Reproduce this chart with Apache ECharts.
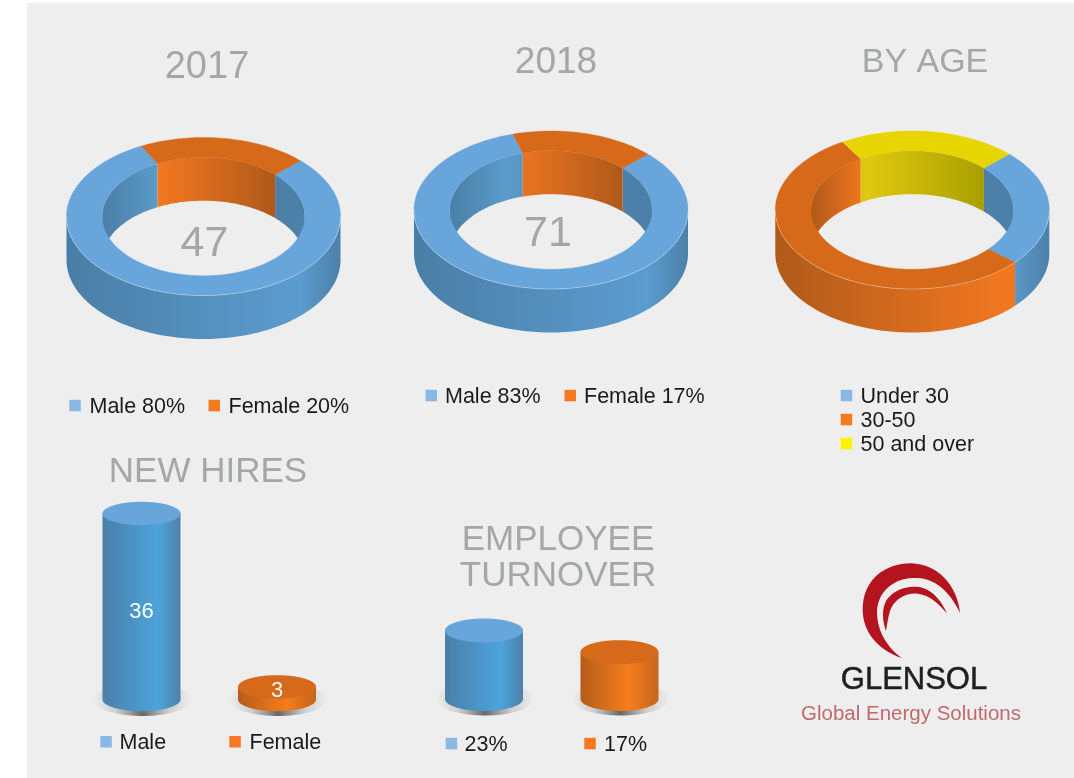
<!DOCTYPE html>
<html><head><meta charset="utf-8">
<style>html,body{margin:0;padding:0;background:#fff}#c{width:1074px;height:778px}</style>
<script src="https://cdn.jsdelivr.net/npm/echarts@6/dist/echarts.min.js"></script>
</head><body><div id="c"></div>
<script>
// ---------- data ----------
var shares2017 = [80, 20];
var shares2018 = [83, 17];
var sharesAge = [24, 55, 21];
var labels2017 = ['Male 80%', 'Female 20%'];
var labels2018 = ['Male 83%', 'Female 17%'];
var labelsAge = ['Under 30', '30-50', '50 and over'];
var totals = ['47', '71'];
var hiresCategories = ['Male', 'Female'];
var hiresValues = [36, 3];
var turnoverCategories = ['23%', '17%'];
var turnoverValues = [23, 17];

// ---------- palette ----------
var FONT = '"Liberation Sans", Arial, sans-serif';
var GREY = '#a3a7a6';
var PAL = {
  blue: {top:'#68a5da', legend:'#8ab8e4',
    outer:[[0,'#4a7ea6'],[.85,'#5c9ccf'],[1,'#4c80a8']],
    inner:[[0,'#4a7ea6'],[.27,'#5a9bc9'],[.85,'#4c80a8'],[1,'#4c80a8']],
    body:[[0,'#4a7fa8'],[.72,'#4ca4dc'],[1,'#4e81aa']]},
  orange: {top:'#d6691a', legend:'#f47920',
    outer:[[0,'#b05a1a'],[.88,'#f47920'],[1,'#b05a1a']],
    inner:[[0,'#b0591a'],[.27,'#f47920'],[.85,'#b0591a'],[1,'#b0591a']],
    body:[[0,'#b55d1b'],[.62,'#f57d1c'],[1,'#c5651c']]},
  yellow: {top:'#e6d500', legend:'#fff200',
    outer:[[0,'#a9a000'],[1,'#e6d500']],
    inner:[[0,'#a9a000'],[.27,'#e0c910'],[.85,'#a9a000'],[1,'#a9a000']]}
};
function stops(a){return a.map(function(s){return {offset:s[0],color:s[1]};});}

// ---------- 3D donut drawn by a custom series ----------
var RX=137, RY=79, IRX=101.3, IRY=59.3, DEPTH=43.5, START=45;
function pt(cx,cy,rx,ry,deg,dy){
  var r=deg*Math.PI/180;
  return [cx+rx*Math.sin(r), cy-ry*Math.cos(r)+(dy||0)];
}
function arc(cx,cy,rx,ry,a,b,dy){
  var n=Math.max(2,Math.ceil(Math.abs(b-a)/1.5)),out=[];
  for(var i=0;i<=n;i++) out.push(pt(cx,cy,rx,ry,a+(b-a)*i/n,dy));
  return out;
}
function overlap(a,b,lo,hi){var s=Math.max(a,lo),e=Math.min(b,hi);return e>s?[s,e]:null;}
function donut(name,shares,colors,cx,cy){
  return {
    type:'custom',name:name,coordinateSystem:'none',silent:true,animation:false,
    data:shares,
    renderItem:function(params,api){
      var i=params.dataIndex,before=0;
      for(var k=0;k<i;k++) before+=shares[k];
      var a=START+before*3.6, b=a+api.value(0)*3.6, p=PAL[colors[i]], kids=[];
      // outer wall: the front half of the ring
      [[90,270],[450,630]].forEach(function(w){
        var o=overlap(a,b,w[0],w[1]); if(!o) return;
        var top=arc(cx,cy,RX,RY,o[0],o[1]);
        kids.push({type:'polygon',z2:1,
          shape:{points:top.concat(arc(cx,cy,RX,RY,o[1],o[0],DEPTH))},
          style:{fill:new echarts.graphic.LinearGradient(cx-RX,0,cx+RX,0,stops(p.outer),true)}});
        kids.push({type:'polyline',z2:4,shape:{points:top},style:{fill:null,stroke:'rgba(255,255,255,.45)',lineWidth:.7}});
      });
      // inner wall: the back half of the hole
      [[-90,90],[270,450],[630,810]].forEach(function(w){
        var o=overlap(a,b,w[0],w[1]); if(!o) return;
        kids.push({type:'polygon',z2:2,
          shape:{points:arc(cx,cy,IRX,IRY,o[0],o[1]).concat(arc(cx,cy,IRX,IRY,o[1],o[0],DEPTH))},
          style:{fill:new echarts.graphic.LinearGradient(cx-IRX,0,cx+IRX,0,stops(p.inner),true)}});
      });
      // top face
      kids.push({type:'polygon',z2:3,
        shape:{points:arc(cx,cy,RX,RY,a,b).concat(arc(cx,cy,IRX,IRY,b,a))},
        style:{fill:p.top,stroke:p.top,lineWidth:.4}});
      return {type:'group',children:kids};
    }
  };
}

// ---------- cylinders through cartesian axes ----------
function cylinder(name,values,colors,gridIndex,ry,showLabel){
  return {
    type:'custom',name:name,coordinateSystem:'cartesian2d',
    xAxisIndex:gridIndex,yAxisIndex:gridIndex,silent:true,animation:false,
    data:values.map(function(v,i){return [i,v];}),
    encode:{x:0,y:1},
    renderItem:function(params,api){
      var i=params.dataIndex,v=api.value(1),p=PAL[colors[i]];
      var tp=api.coord([i,v]);
      var cx=tp[0], rx=39, topY=tp[1], baseY=params.coordSys.y+params.coordSys.height;
      var kids=[
        {type:'polygon',z2:0,shape:{points:arc(cx+1,baseY,rx+10,16.5,0,360)},
          style:{fill:new echarts.graphic.LinearGradient(0,0,1,0,[
            {offset:0,color:'rgba(90,90,90,0)'},{offset:.22,color:'rgba(90,90,90,.2)'},
            {offset:.5,color:'rgba(70,70,70,.8)'},{offset:.78,color:'rgba(90,90,90,.2)'},
            {offset:1,color:'rgba(90,90,90,0)'}])}},
        {type:'polygon',z2:1,shape:{points:[[cx-rx,topY]].concat(arc(cx,baseY,rx,ry,270,90),[[cx+rx,topY]])},
          style:{fill:new echarts.graphic.LinearGradient(0,0,1,0,stops(p.body))}},
        {type:'polygon',z2:2,shape:{points:arc(cx,topY,rx,ry,0,360)},style:{fill:p.top}}
      ];
      if(showLabel){
        kids.push({type:'text',z2:3,x:cx,y:(topY+baseY)/2+(v>10?5.5:-2.5),
          style:{text:String(v),fill:'#fff',font:'22px '+FONT,textAlign:'center',textVerticalAlign:'middle'}});
      }
      return {type:'group',children:kids};
    }
  };
}

// ---------- text ----------
function heading(text,x,y,size){
  return {text:text,left:x,top:y-size/2,padding:0,textAlign:'center',textVerticalAlign:'top',
    textStyle:{fontFamily:FONT,fontSize:size,fontWeight:'normal',color:GREY}};
}
var gfx=[{type:'rect',z:-10,shape:{x:27,y:3,width:1047,height:775},style:{fill:'#eeeeee'}}];
function legendItem(text,color,sqX,y,textX){
  gfx.push({type:'rect',shape:{x:sqX,y:y-5.7,width:11.5,height:11.5},style:{fill:color}});
  gfx.push({type:'text',x:textX,y:y+1.5,style:{text:text,fill:'#1a1a1a',font:'21.5px '+FONT,textAlign:'left',textVerticalAlign:'middle'}});
}
legendItem(labels2017[0],PAL.blue.legend,69.3,405.5,89.5);
legendItem(labels2017[1],PAL.orange.legend,208.5,405.5,228.5);
legendItem(labels2018[0],PAL.blue.legend,425.5,395.5,445);
legendItem(labels2018[1],PAL.orange.legend,564.5,395.5,584);
legendItem(labelsAge[0],PAL.blue.legend,840.7,395.5,860.5);
legendItem(labelsAge[1],PAL.orange.legend,840.7,419.5,860.5);
legendItem(labelsAge[2],PAL.yellow.legend,840.7,443.5,860.5);
legendItem(hiresCategories[0],PAL.blue.legend,100.3,741.7,119.5);
legendItem(hiresCategories[1],PAL.orange.legend,229.3,741.7,249.5);
legendItem(turnoverCategories[0],PAL.blue.legend,445.7,743.5,464.5);
legendItem(turnoverCategories[1],PAL.orange.legend,584.3,743.5,604);

// logo: two crescents as sampled bezier outlines
function bezierOutline(start,curves){
  var pts=[start],p0=start;
  curves.forEach(function(c){
    for(var s=1;s<=16;s++){
      var t=s/16,u=1-t;
      pts.push([u*u*u*p0[0]+3*u*u*t*c[0]+3*u*t*t*c[2]+t*t*t*c[4],
                u*u*u*p0[1]+3*u*u*t*c[1]+3*u*t*t*c[3]+t*t*t*c[5]]);
    }
    p0=[c[4],c[5]];
  });
  return pts;
}
gfx.push({type:'polygon',shape:{points:bezierOutline([901.7,658],[
  [878,650,862,632,862.7,608],[863,580,885,563,911,563.3],[938,564,957,585,960,613],
  [950,592,935,577,913,578],[890,579,877,595,877,612],[877,632,888,648,901.7,658]])},style:{fill:'#b3141d'}});
gfx.push({type:'polygon',shape:{points:bezierOutline([886,631],[
  [882,620,882,609,886,601],[892,591,905,586,917,586.7],[931,588,941,600,947,613.5],
  [938,603,928,593.5,914,593.5],[902,594,893,602,890,611],[888,618,887,625,886,631]])},style:{fill:'#b3141d'}});
gfx.push({type:'text',x:914,y:680,style:{text:'GLENSOL',fill:'#1f1f1f',stroke:'#1f1f1f',lineWidth:.5,font:'31px '+FONT,textAlign:'center',textVerticalAlign:'middle'}});
gfx.push({type:'text',x:911,y:714,style:{text:'Global Energy Solutions',fill:'#c06a6e',font:'20.5px '+FONT,textAlign:'center',textVerticalAlign:'middle'}});

var option={
  backgroundColor:'#ffffff',
  animation:false,
  title:[
    heading('2017',207,67.5,38),
    heading('2018',556,62.5,37),
    heading('BY AGE',925,63,34),
    heading('NEW HIRES',208,472,35),
    heading('EMPLOYEE',558,540,35),
    heading('TURNOVER',558,576,35),
    heading(totals[0],204.5,244.5,43),
    heading(totals[1],548,234.5,43)
  ],
  grid:[
    {left:73.75,width:271,top:513.5,height:186},
    {left:416.25,width:271,top:630.5,height:68.5}
  ],
  xAxis:[
    {gridIndex:0,type:'category',data:hiresCategories,show:false},
    {gridIndex:1,type:'category',data:turnoverCategories,show:false}
  ],
  yAxis:[
    {gridIndex:0,type:'value',min:0.6,max:36,show:false},
    {gridIndex:1,type:'value',min:4,max:23,show:false}
  ],
  graphic:gfx,
  series:[
    donut('2017',shares2017,['blue','orange'],203.5,216.5),
    donut('2018',shares2018,['blue','orange'],551,210),
    donut('By age',sharesAge,['blue','orange','yellow'],912.3,210),
    cylinder('New hires',hiresValues,['blue','orange'],0,11.7,true),
    cylinder('Employee turnover',turnoverValues,['blue','orange'],1,12,false)
  ]
};
var chart=echarts.init(document.getElementById('c'),null,{renderer:'canvas'});
chart.setOption(option);
</script></body></html>
